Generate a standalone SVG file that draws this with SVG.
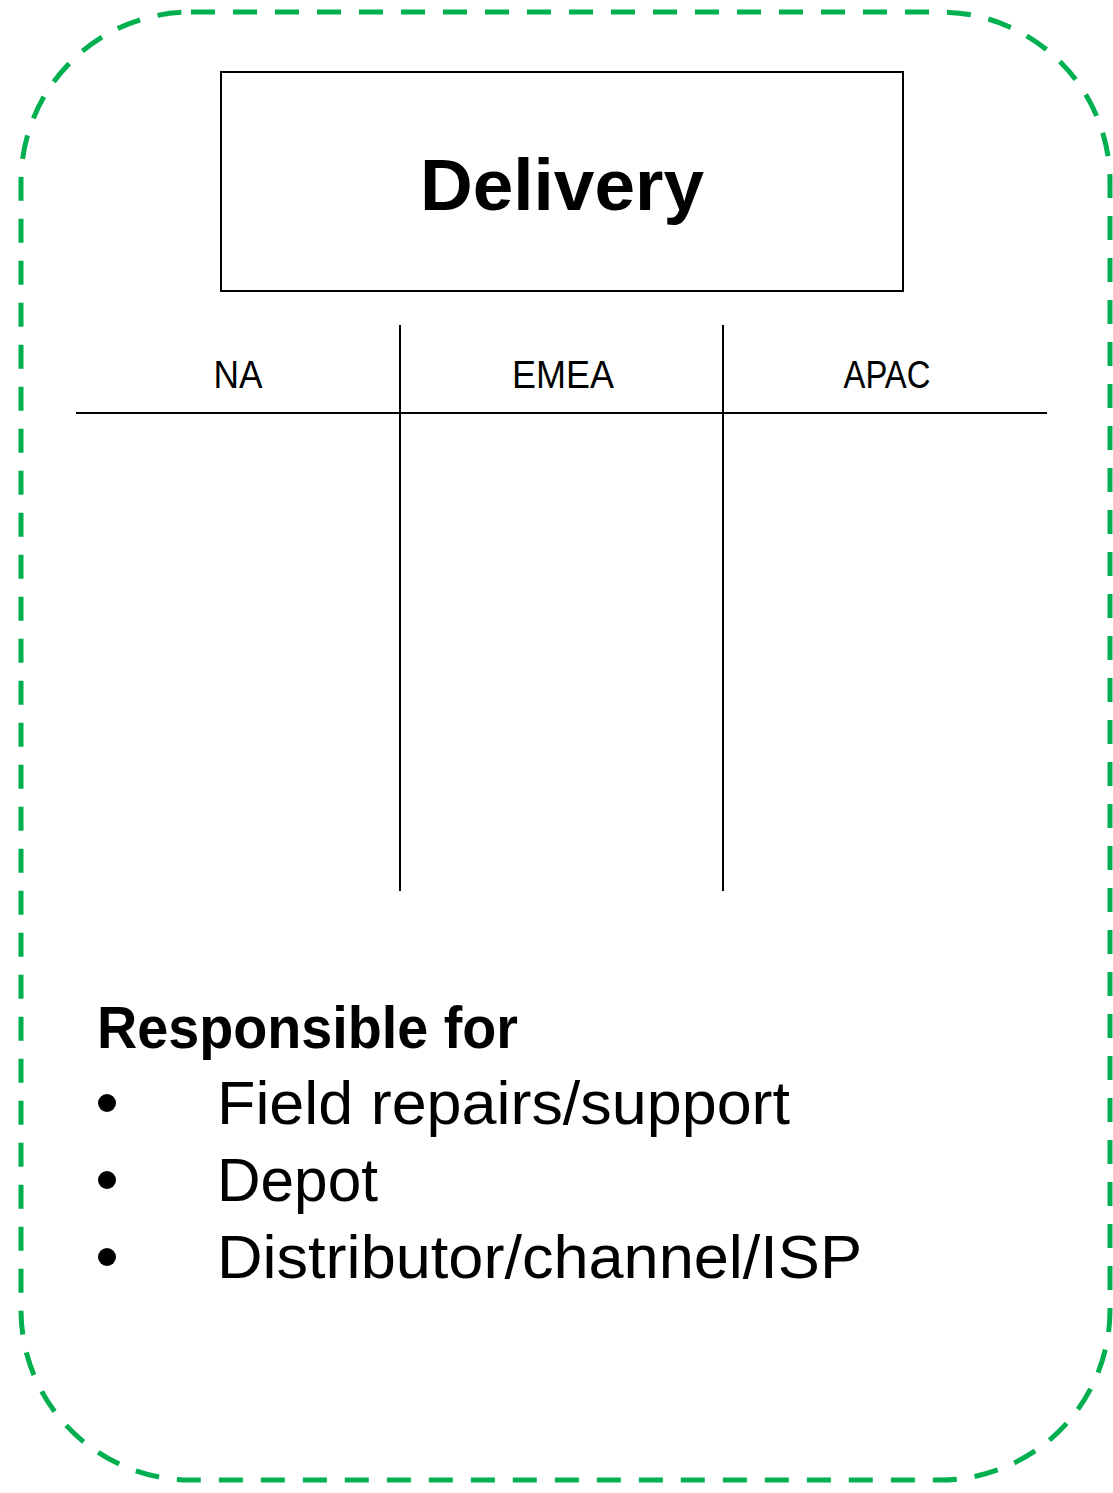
<svg xmlns="http://www.w3.org/2000/svg" width="1113" height="1493" viewBox="0 0 1113 1493">
  <style>
    .frame { fill: none; stroke: #00B050; stroke-width: 5; stroke-dasharray: 24 18; }
    .box { fill: #FFFFFF; stroke: #000000; stroke-width: 2; }
    .rule { stroke: #000000; stroke-width: 2; fill: none; }
    .title { font-family: "Liberation Sans", Arial, sans-serif; font-weight: bold; font-size: 73px; fill: #000; text-anchor: middle; }
    .region { font-family: "Liberation Sans", Arial, sans-serif; font-size: 39px; fill: #000; text-anchor: middle; }
    .heading { font-family: "Liberation Sans", Arial, sans-serif; font-weight: bold; font-size: 59px; fill: #000; }
    .item { font-family: "Liberation Sans", Arial, sans-serif; font-size: 62px; fill: #000; }
  </style>
  <rect width="1113" height="1493" fill="#FFFFFF"/>

  <!-- dashed outer frame -->
  <g id="frame">
    <rect class="frame" x="21" y="12" width="1089" height="1468" rx="170" ry="170"/>
  </g>

  <!-- title box -->
  <g id="delivery">
    <rect class="box" x="221" y="72" width="682" height="219"/>
    <text class="title" x="562" y="210">Delivery</text>
  </g>

  <!-- region table: column dividers and header rule -->
  <g id="connectors">
    <line class="rule" x1="400" y1="325" x2="400" y2="891"/>
    <line class="rule" x1="723" y1="325" x2="723" y2="891"/>
    <line class="rule" x1="76" y1="413" x2="1047" y2="413"/>
  </g>

  <g id="region-na">
    <text class="region" x="238" y="388" textLength="49" lengthAdjust="spacingAndGlyphs">NA</text>
  </g>
  <g id="region-emea">
    <text class="region" x="563" y="388" textLength="102" lengthAdjust="spacingAndGlyphs">EMEA</text>
  </g>
  <g id="region-apac">
    <text class="region" x="887" y="388" textLength="87" lengthAdjust="spacingAndGlyphs">APAC</text>
  </g>

  <!-- responsibilities -->
  <g id="responsibilities">
    <text class="heading" x="97" y="1048" textLength="421" lengthAdjust="spacingAndGlyphs">Responsible for</text>
    <circle cx="107" cy="1103" r="9" fill="#000"/>
    <text class="item" x="217" y="1124" textLength="573" lengthAdjust="spacingAndGlyphs">Field repairs/support</text>
    <circle cx="107" cy="1180" r="9" fill="#000"/>
    <text class="item" x="217" y="1201" textLength="161" lengthAdjust="spacingAndGlyphs">Depot</text>
    <circle cx="107" cy="1257" r="9" fill="#000"/>
    <text class="item" x="217" y="1278" textLength="645" lengthAdjust="spacingAndGlyphs">Distributor/channel/ISP</text>
  </g>
</svg>
